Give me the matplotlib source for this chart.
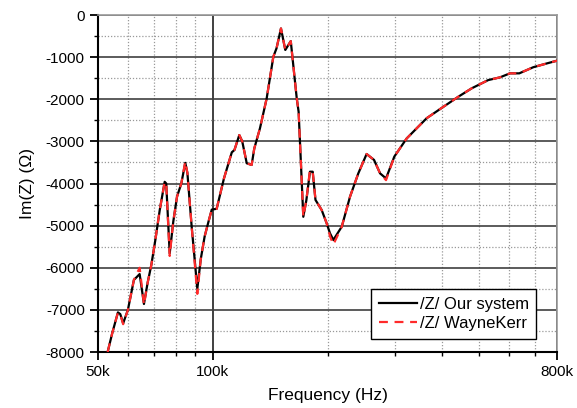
import matplotlib
matplotlib.use("Agg")
import matplotlib.pyplot as plt
from matplotlib.ticker import FixedLocator, NullFormatter, FixedFormatter, MultipleLocator

plt.rcParams['font.family'] = ['Liberation Sans', 'DejaVu Sans']
plt.rcParams['axes.unicode_minus'] = False

# frequency in kHz
freq_khz = [53.0, 54.5, 56.4, 57.2, 58.2, 59.9, 62.1, 64.3, 66.0, 67.5, 69.0, 70.7, 72.6,
            74.8, 75.5, 77.1, 78.8, 80.6, 82.7, 84.7, 85.8, 88.0, 91.1, 93.0, 95.2, 97.5,
            99.4, 102.4, 107.0, 112.2, 114.0, 117.4, 119.5, 122.8, 126.5, 128.5, 133.0,
            138.5, 144.2, 147.0, 151.0, 155.0, 160.2, 166.1, 168.0, 172.8, 176.0, 179.9,
            182.9, 186.0, 193.1, 199.0, 203.0, 207.2, 218.0, 229.2, 240.9, 253.3, 264.9,
            274.8, 284.8, 299.5, 322.7, 349.7, 364.1, 402.6, 440.8, 478.0, 528.0, 567.0,
            602.0, 637.0, 693.0, 752.0, 800.0]

im_our = [-8000, -7550, -7060, -7100, -7320, -7000, -6290, -6150, -6860, -6350, -5935, -5340,
          -4630, -3960, -4000, -5660, -4900, -4310, -4000, -3510, -3750, -5000, -6500, -5800,
          -5260, -4900, -4620, -4600, -3880, -3260, -3205, -2850, -3000, -3520, -3560, -3170,
          -2690, -1980, -990, -790, -320, -830, -620, -1980, -2300, -4790, -4400, -3720, -3720,
          -4390, -4630, -4945, -5180, -5340, -5025, -4310, -3760, -3300, -3440, -3760, -3880,
          -3360, -2930, -2610, -2450, -2180, -1940, -1740, -1545, -1480, -1385, -1385, -1240,
          -1150, -1085]

im_wk = [-8000, -7550, -7060, -7100, -7340, -7000, -6290, -6000, -6880, -6350, -5935, -5340,
         -4630, -3960, -4000, -5720, -4900, -4310, -4000, -3480, -3750, -5000, -6620, -5800,
         -5260, -4900, -4620, -4600, -3880, -3260, -3205, -2850, -3000, -3520, -3560, -3170,
         -2690, -1980, -990, -790, -320, -830, -620, -1980, -2300, -4790, -4400, -3680, -3720,
         -4390, -4630, -4945, -5250, -5450, -5025, -4310, -3760, -3300, -3440, -3760, -3920,
         -3360, -2930, -2610, -2450, -2180, -1940, -1740, -1545, -1480, -1385, -1385, -1240,
         -1150, -1085]

major_x = [50, 100, 800]
major_x_labels = ['50k', '100k', '800k']
minor_x = [60, 70, 80, 90, 200, 300, 400, 500, 600, 700]

fig = plt.figure(figsize=(5.77, 4.08), dpi=100)
ax = fig.add_axes([98/577, 56/408, 459/577, 337/408])

ax.plot(freq_khz, im_our, color='black', lw=1.6, label='/Z/ Our system', zorder=3)
ax.plot(freq_khz, im_wk, color='#ff2a2a', lw=1.6, ls=(0, (4, 3)), label='/Z/ WayneKerr', zorder=4)

ax.set_xscale('log')
ax.set_xlim(50, 800)
ax.set_ylim(-8000, 0)

ax.xaxis.set_major_locator(FixedLocator(major_x))
ax.xaxis.set_major_formatter(FixedFormatter(major_x_labels))
ax.xaxis.set_minor_locator(FixedLocator(minor_x))
ax.xaxis.set_minor_formatter(NullFormatter())
ax.yaxis.set_major_locator(MultipleLocator(1000))
ax.yaxis.set_minor_locator(MultipleLocator(500))

ax.grid(which='major', axis='y', color='#404040', lw=1.2, ls='-')
ax.grid(which='major', axis='x', color='#202020', lw=1.2, ls='-')
ax.grid(which='minor', color='#999999', lw=0.9, ls=(0, (1, 1.5)))
ax.set_axisbelow(True)

ax.tick_params(which='major', direction='out', length=6, width=1.3, labelsize=11, colors='black')
ax.tick_params(which='minor', direction='out', length=3, width=1.0)
ax.tick_params(top=False, right=False, which='both')

for s in ['left', 'bottom']:
    ax.spines[s].set_linewidth(1.5)
    ax.spines[s].set_color('black')
for s in ['top', 'right']:
    ax.spines[s].set_linewidth(1.2)
    ax.spines[s].set_color('#999999')

ax.set_xlabel('Frequency (Hz)', fontsize=12.5, labelpad=6)
ax.set_ylabel('Im(Z) (Ω)', fontsize=12.5, labelpad=8)

leg = ax.legend(loc='lower right', bbox_to_anchor=(0.955, 0.04), fontsize=12, frameon=True,
                fancybox=False, edgecolor='black', framealpha=1, handlelength=2.3,
                handletextpad=0.15, borderpad=0.45, labelspacing=0.25, borderaxespad=0)
leg.get_frame().set_linewidth(1.0)

fig.savefig('out.png', dpi=100)
